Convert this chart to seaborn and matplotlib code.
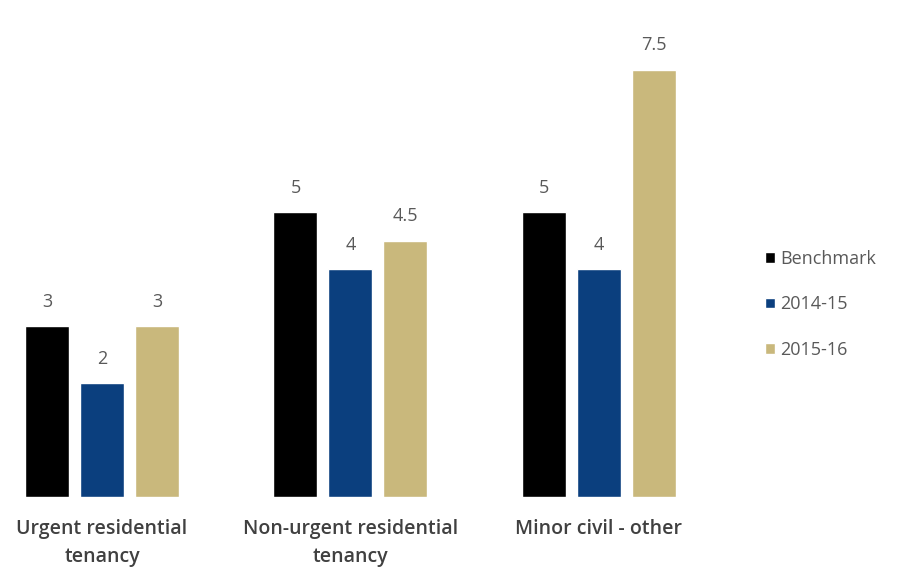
import matplotlib
matplotlib.use("Agg")
import matplotlib.pyplot as plt
import seaborn as sns
import pandas as pd

categories = ["Urgent residential\ntenancy", "Non-urgent residential\ntenancy", "Minor civil - other"]
series = ["Benchmark", "2014-15", "2015-16"]
benchmark = [3, 5, 5]
y2014_15 = [2, 4, 4]
y2015_16 = [3, 4.5, 7.5]
colors = ["#000000", "#0b3f7e", "#c9b87c"]

rows = []
for name, vals in zip(series, [benchmark, y2014_15, y2015_16]):
    for cat, v in zip(categories, vals):
        rows.append({"category": cat, "series": name, "value": v})
df = pd.DataFrame(rows)

sns.set_style("white")
plt.rcParams["font.family"] = ["Open Sans", "DejaVu Sans"]

fig = plt.figure(figsize=(9, 5.69), dpi=100)
ax = fig.add_axes([0.0, 0.1265, 0.8, 0.838])

sns.barplot(data=df, x="category", y="value", hue="series", hue_order=series,
            palette=colors, width=0.664, gap=0.2, ax=ax, saturation=1)

for cont in ax.containers:
    ax.bar_label(cont, labels=[f"{v:g}" for v in cont.datavalues],
                 padding=11, fontsize=13, color="#595959")

ax.set_xlim(-0.4105, 2.487)
ax.set_ylim(0, 8.37)
ax.set_xlabel("")
ax.set_ylabel("")
ax.set_yticks([])
ax.tick_params(axis="x", length=0, pad=16, labelsize=14, labelcolor="#404040")
for t in ax.get_xticklabels():
    t.set_fontweight("semibold")
    t.set_linespacing(1.5)
sns.despine(ax=ax, left=True, bottom=True)

handles, labels = ax.get_legend_handles_labels()
ax.legend(handles, labels, loc="center left", bbox_to_anchor=(0.832, 0.465),
          bbox_transform=fig.transFigure, frameon=False, fontsize=13,
          handlelength=0.55, handleheight=0.55, handletextpad=0.3,
          labelspacing=1.52, labelcolor="#595959")

fig.savefig("out.png", dpi=100)
plt.close(fig)
